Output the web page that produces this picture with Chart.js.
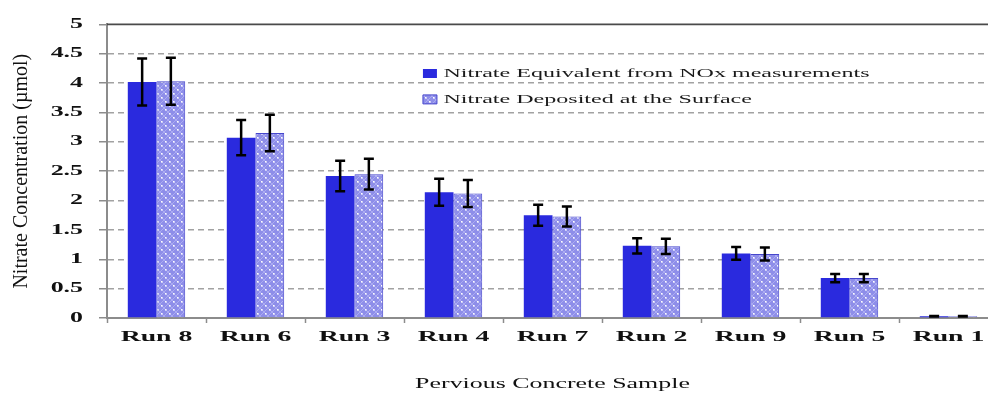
<!DOCTYPE html>
<html>
<head>
<meta charset="utf-8">
<script src="https://cdn.jsdelivr.net/npm/chart.js@4/dist/chart.umd.min.js"></script>
<style>
  html, body { margin: 0; padding: 0; background: #fff; overflow: hidden; width: 988px; height: 394px; }
  canvas { display: block; }
</style>
</head>
<body>
<canvas id="chart" width="1000" height="394"></canvas>
<script>
// Samples, ordered by measured nitrate
const runs = ['Run 8', 'Run 6', 'Run 3', 'Run 4', 'Run 7', 'Run 2', 'Run 9', 'Run 5', 'Run 1'];

// Nitrate equivalent computed from NOx measurements (µmol) and its uncertainty
const noxEquivalent = [4.02, 3.07, 2.42, 2.14, 1.75, 1.23, 1.10, 0.68, 0.03];
const noxError      = [0.40, 0.30, 0.26, 0.23, 0.18, 0.13, 0.11, 0.07, 0.005];

// Nitrate recovered from the concrete surface (µmol) and its uncertainty
const surfaceDeposit = [4.03, 3.15, 2.45, 2.12, 1.73, 1.22, 1.09, 0.68, 0.03];
const surfaceError   = [0.40, 0.31, 0.26, 0.23, 0.17, 0.13, 0.11, 0.07, 0.005];

const seriesNames = ['Nitrate Equivalent from NOx measurements', 'Nitrate Deposited at the Surface'];
const axisTitles = { x: 'Pervious Concrete Sample', y: 'Nitrate Concentration (µmol)' };

const SERIF = 'Liberation Serif';
const TEXT_STRETCH = 1.85;   // horizontally extended lettering for upright text

// Dotted lilac fill for the surface-deposit bars
function dottedFill() {
  const tile = document.createElement('canvas');
  tile.width = 8; tile.height = 8;
  const g = tile.getContext('2d');
  g.fillStyle = '#8e8ee9';
  g.fillRect(0, 0, 8, 8);
  g.strokeStyle = 'rgba(195,195,250,0.55)';
  g.lineWidth = 1;
  g.beginPath();
  g.moveTo(0, 8); g.lineTo(8, 0);
  g.moveTo(0, 0); g.lineTo(8, 8);
  g.stroke();
  g.fillStyle = '#ffffff';
  g.fillRect(1, 1, 1.6, 1.6);
  g.fillRect(5, 5, 1.6, 1.6);
  return g.createPattern(tile, 'repeat');
}

// Widen upright text (ticks, legend, x title); rotated text keeps normal proportions
const wideLettering = {
  id: 'wideLettering',
  beforeInit(chart) {
    const ctx = chart.ctx;
    const nativeFill = ctx.fillText.bind(ctx);
    const nativeMeasure = ctx.measureText.bind(ctx);
    const factor = () => (ctx.getTransform().b === 0 ? TEXT_STRETCH : 1);
    ctx.fillText = function (text, x, y, maxWidth) {
      const k = factor();
      if (k === 1) return maxWidth === undefined ? nativeFill(text, x, y) : nativeFill(text, x, y, maxWidth);
      ctx.save();
      ctx.translate(x, y);
      ctx.scale(k, 1);
      nativeFill(text, 0, 0);
      ctx.restore();
    };
    ctx.measureText = function (text) {
      const m = nativeMeasure(text);
      const k = factor();
      if (k === 1) return m;
      return {
        width: m.width * k,
        actualBoundingBoxAscent: m.actualBoundingBoxAscent,
        actualBoundingBoxDescent: m.actualBoundingBoxDescent,
        actualBoundingBoxLeft: m.actualBoundingBoxLeft * k,
        actualBoundingBoxRight: m.actualBoundingBoxRight * k
      };
    };
  }
};

// Solid frame line along the top of the plot
const topFrame = {
  id: 'topFrame',
  beforeDatasetsDraw(chart) {
    const { ctx, chartArea: a } = chart;
    ctx.save();
    ctx.strokeStyle = '#4a4a4a';
    ctx.lineWidth = 1.6;
    ctx.beginPath();
    ctx.moveTo(a.left, a.top);
    ctx.lineTo(a.right, a.top);
    ctx.stroke();
    ctx.restore();
  }
};

// ± error bars with caps, centred on each bar
const errorBars = {
  id: 'errorBars',
  afterDatasetsDraw(chart) {
    const { ctx } = chart;
    const yScale = chart.scales.y;
    const errors = [noxError, surfaceError];
    ctx.save();
    ctx.strokeStyle = '#000';
    ctx.lineWidth = 2.5;
    errors.forEach((errs, di) => {
      const values = chart.data.datasets[di].data;
      chart.getDatasetMeta(di).data.forEach((bar, i) => {
        const hi = yScale.getPixelForValue(values[i] + errs[i]);
        const lo = yScale.getPixelForValue(values[i] - errs[i]);
        const cap = 5;
        ctx.beginPath();
        ctx.moveTo(bar.x, hi); ctx.lineTo(bar.x, lo);
        ctx.moveTo(bar.x - cap, hi); ctx.lineTo(bar.x + cap, hi);
        ctx.moveTo(bar.x - cap, lo); ctx.lineTo(bar.x + cap, lo);
        ctx.stroke();
      });
    });
    ctx.restore();
  }
};

// Legend sits inside the plot, upper middle
const legendPlacement = {
  id: 'legendPlacement',
  afterLayout(chart) {
    const lg = chart.legend;
    const a = chart.chartArea;
    const w = lg.width, h = lg.height;
    lg.left = a.left + (a.right - a.left) * 0.34;
    lg.top = a.top + 29.5;
    lg.right = lg.left + w;
    lg.bottom = lg.top + h;
  }
};

new Chart(document.getElementById('chart'), {
  type: 'bar',
  data: {
    labels: runs,
    datasets: [
      {
        label: seriesNames[0],
        data: noxEquivalent,
        backgroundColor: '#2a2ade',
        borderWidth: 0,
        barPercentage: 1,
        categoryPercentage: 0.58
      },
      {
        label: seriesNames[1],
        data: surfaceDeposit,
        backgroundColor: dottedFill(),
        borderColor: '#4646cc',
        borderWidth: 1,
        barPercentage: 1,
        categoryPercentage: 0.58
      }
    ]
  },
  options: {
    responsive: false,
    animation: false,
    events: [],
    layout: { padding: { top: 18, right: 2, bottom: 0, left: 0 } },
    plugins: {
      tooltip: { enabled: false },
      legend: {
        position: 'chartArea',
        align: 'start',
        labels: {
          boxWidth: 14,
          boxHeight: 9,
          padding: 13,
          color: '#1a1a1a',
          font: { family: SERIF, size: 13 }
        }
      }
    },
    scales: {
      x: {
        grid: {
          display: true,
          drawOnChartArea: false,
          drawTicks: true,
          tickLength: 5,
          tickWidth: 1.5,
          tickColor: '#8c8c8c',
          offset: true
        },
        border: { color: '#8c8c8c', width: 2 },
        ticks: {
          color: '#111',
          padding: 5,
          maxRotation: 0,
          autoSkip: false,
          font: { family: SERIF, size: 15, weight: 'bold' }
        },
        title: {
          display: true,
          text: axisTitles.x,
          color: '#111',
          font: { family: SERIF, size: 14 },
          padding: { top: 0, bottom: 1 }
        },
        afterFit(scale) { scale.height = 76; }
      },
      y: {
        min: 0,
        max: 5,
        grid: {
          color: (c) => (c.tick && (c.tick.value === 5 || c.tick.value === 0) ? 'rgba(0,0,0,0)' : '#a2a2a2'),
          lineWidth: 1.5,
          tickLength: 8,
          tickWidth: 1.5,
          tickColor: '#8c8c8c',
          tickBorderDash: []
        },
        border: { color: '#8c8c8c', width: 2, dash: [6, 4] },
        ticks: {
          stepSize: 0.5,
          color: '#111',
          padding: 16,
          font: { family: SERIF, size: 14, weight: 'bold' },
          callback: (v) => String(v)
        },
        title: {
          display: true,
          text: axisTitles.y,
          color: '#111',
          font: { family: SERIF, size: 20 },
          padding: { top: 10, bottom: 0 }
        },
        afterFit(scale) { scale.width = 107; }
      }
    }
  },
  plugins: [wideLettering, topFrame, errorBars, legendPlacement]
});
</script>
</body>
</html>
